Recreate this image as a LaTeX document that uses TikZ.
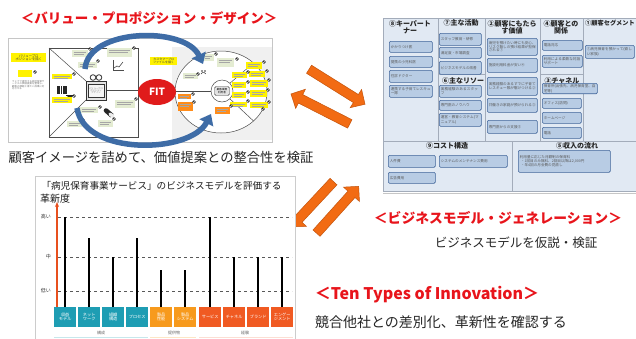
\documentclass[tikz,border=0pt]{standalone}
\usepackage{fontspec}
\setmainfont{Noto Sans CJK JP}
\XeTeXlinebreaklocale "ja"
\XeTeXlinebreakskip=0pt plus 0.5pt
\usetikzlibrary{arrows.meta,shapes.geometric,shapes.arrows,calc}

\definecolor{ttlred}{HTML}{E8141B}
\definecolor{captxt}{HTML}{262626}
\definecolor{arrorange}{HTML}{F26B13}
\definecolor{arredge}{HTML}{C4550E}
\definecolor{fitred}{HTML}{E01B1B}
\definecolor{vpdblue}{HTML}{3E6CA6}
\definecolor{bmcbg}{HTML}{E1E9F3}
\definecolor{bmcline}{HTML}{A3ACBA}
\definecolor{notefill}{HTML}{B8CCE4}
\definecolor{noteedge}{HTML}{41659A}
\definecolor{tyteal}{HTML}{1E9DB3}
\definecolor{tyorange}{HTML}{F79A1D}
\definecolor{tyred}{HTML}{F05A22}
\definecolor{axred}{HTML}{E8501E}
\definecolor{stickyyel}{HTML}{FFF200}
\definecolor{stickygrn}{HTML}{E4ECD2}
\definecolor{stickyorg}{HTML}{FF8C1A}

\newcommand{\fsz}[1]{\fontsize{#1}{#1}\selectfont}
% small black check mark badge
\newcommand{\chk}[2]{\fill[black!85] (#1,#2) circle (1.9);
  \draw[white,line width=0.35] (#1-0.9,#2) -- (#1-0.2,#2+0.7) -- (#1+0.9,#2-0.8);}
% coloured sticky square of the canvas
\newcommand{\vnote}[5]{\fill[#5] (#1,#2) rectangle (#3,#4);
  \draw[black!35,line width=0.3] ($(#1,#2)+(1.5,2.2)$) -- ($(#3,#2)+(-2,2.2)$);
  \draw[black!35,line width=0.3] ($(#1,#2)+(1.5,4)$) -- ($(#3,#2)+(-4,4)$);}

\begin{document}
\begin{tikzpicture}[x=1pt,y=-1pt,
  ttl/.style={text=ttlred,font=\fsz{13.5}\bfseries,inner sep=0},
  captext/.style={text=captxt,font=\fsz{13.3},inner sep=0},
  bmchead/.style={font=\fsz{7}\bfseries,text=black!85,inner sep=0,align=center},
  bnote/.style={draw=noteedge,fill=notefill,line width=0.6,rounded corners=1.2pt,
    anchor=north west,inner sep=1pt,font=\fsz{3.6},text=black!65,align=left},
  blockarrow/.style={single arrow,fill=arrorange,draw=arredge,line width=0.5,
    inner xsep=0pt,inner ysep=4.5pt,minimum width=21pt,
    single arrow head extend=6pt,single arrow head indent=0pt},
  tybox/.style={anchor=north west,text=white,font=\fsz{4.2},align=center,
    inner sep=0,minimum height=20},
  bar/.style={line width=1.6,black},
  lvl/.style={dashed,black!65,line width=0.5},
  lvltext/.style={font=\fsz{5},text=black!80,anchor=east,inner sep=0},
  grp/.style={font=\fsz{4},text=black!60,inner sep=0},
]
\useasboundingbox (0,0) rectangle (636,338);
\clip (0,0) rectangle (636,338);
\fill[white] (0,0) rectangle (636,338);

% ================= Value Proposition Design =================
\node[ttl] (vpdTitle) at (149,18) {＜バリュー・プロポジション・デザイン＞};

\draw[gray!45,fill=white] (8,38) rectangle (272,142);
% left instruction panel
\node[fill=stickyyel,anchor=north west,minimum width=35,minimum height=9,inner sep=0,
  font=\fsz{3.3},align=center,text=black!75] (vpLabel) at (11,53) {バリュープロ\\ポジションを描く};
\fill[stickyyel] (18,70) rectangle (32,77);
\chk{35}{72}
\node[anchor=north west,text width=33,font=\fsz{2.4},text=black!55,inner sep=0,align=left]
  (vpMemo) at (12,80) {ウェブで提供する病児保育サービスの価値提案を整理し、顧客の課題と得たい成果に対応させる};

% value map square
\draw[gray!60!black,line width=0.5] (49,48) rectangle (138,137);
\draw[gray!60!black,line width=0.5] (49,48) -- (86,81);
\draw[gray!60!black,line width=0.5] (49,137) -- (86,100);
\draw[gray!60!black,line width=0.5] (106,90) -- (138,90);
% gift icon
\draw[gray!40!black,line width=0.8] (93,77.5) circle (2.8) (99,77.5) circle (2.8);
\draw[gray!40!black,fill=gray!22,line width=0.6] (86,81) rectangle (106,100);
\draw[gray!40!black,fill=gray!8,line width=0.4] (88,84) rectangle (104,97);
\node[font=\fsz{2.3},text=black!50,align=center,inner sep=0] (giftTxt) at (96,90.5) {バリュープロ\\ポジション\\デザイン};
% barcode + dome icon
\foreach \bx/\bw in {57/0.9,58.4/0.4,59.3/0.7,60.5/0.4,61.4/1.0,62.8/0.4,63.7/0.7,64.9/0.4,65.8/0.9}
  \fill[black!85] (\bx,86) rectangle (\bx+\bw,94);
\fill[black!85] (66,95) rectangle (74,96);
\fill[black!85] (67,95) arc (180:0:3 and 3.2) -- cycle;
% growth chart icon
\draw[black!70,line width=0.4] (113,60) -- (113,70) -- (124,70);
\draw[black!70,line width=0.6] (114,68) -- (117,66) -- (119,67) -- (123,62);
% pill icon
\draw[black!85,line width=4.6,line cap=round] (106,110.5) -- (109.5,113.5);
\draw[black!85,line width=4.6] (109.5,113.5) -- (112,115.7);
\draw[gray!15,line width=3.4,line cap=round] (110,114) -- (113,116.6);
% stickies in the value map
\vnote{72}{50}{88}{57}{stickygrn}
\vnote{78}{62}{97}{68}{stickygrn}
\vnote{107}{48}{132}{57}{stickygrn}
\vnote{52}{74}{72}{79}{stickyyel}
\vnote{52}{97}{72}{103}{stickyyel}
\vnote{80}{107}{98}{113}{stickygrn}
\vnote{115}{100}{135}{108}{stickygrn}
\vnote{67}{121}{82}{127}{stickygrn}
\vnote{98}{120}{113}{127}{stickygrn}
\chk{90}{49}\chk{98}{61}\chk{74}{74}\chk{74}{96}\chk{100}{107}\chk{136}{99}\chk{83}{120}\chk{114}{119}\chk{134}{48}

% customer profile panel
\fill[gray!12] (172,47) rectangle (272,140);
\draw[gray!60!black,fill=white,line width=0.5] (221,92) ellipse [x radius=46,y radius=41];
\draw[gray!60!black,line width=0.5] (211,91) -- (175,91);
\draw[gray!60!black,line width=0.5] (229,84) -- (253.5,63);
\draw[gray!60!black,line width=0.5] (229,98) -- (253.5,121);
\draw[gray!60!black,fill=white,line width=0.5] (222,91) circle (11);
\node[draw=gray!50!black,fill=gray!22,rounded corners=1.5pt,minimum width=15,minimum height=9,
  inner sep=0,font=\fsz{2.6},align=center] (custCore) at (222,91) {顧客業務\\利用者};
\node[fill=stickyyel,anchor=north west,minimum width=27,minimum height=8,inner sep=0,
  font=\fsz{3},align=center,text=black!75] (cpLabel) at (150,57) {カスタマープロ\\ファイルを描く};
% gains
\vnote{203}{54}{214}{61}{stickygrn}
\vnote{217}{58}{234}{67}{stickygrn}
\vnote{183}{73}{198}{79}{stickygrn}
\fill[black!80] (202,71) circle (0.9) (205,71) circle (0.9);
\draw[black!80,line width=0.5] (201,74) arc (200:340:2.5);
% jobs
\vnote{246}{62}{262}{69}{stickyyel}
\vnote{232}{72}{247}{78}{stickyyel}
\vnote{249}{71}{265}{77}{stickyyel}
\vnote{232}{82}{246}{88}{stickyyel}
\vnote{250}{80}{268}{87}{stickyyel}
\vnote{232}{92}{246}{98}{stickyyel}
\vnote{250}{90}{267}{97}{stickyyel}
\vnote{230}{102}{247}{107}{stickyyel}
\vnote{250}{102}{268}{108}{stickyyel}
% pains
\vnote{178}{94}{191}{99}{stickyorg}
\vnote{178}{102}{193}{111}{stickyorg}
\vnote{215}{107}{230}{114}{stickyorg}
\chk{216}{54}\chk{237}{59}\chk{198}{74}\chk{264}{62}\chk{248}{72}\chk{267}{71}\chk{248}{82}
\chk{269}{80}\chk{248}{92}\chk{268}{90}\chk{248}{101}\chk{269}{102}\chk{193}{94}\chk{194}{102}\chk{231}{106}\chk{263}{109}

% fit arrows
\draw[vpdblue,line width=5.5,-{Triangle[width=15pt,length=10pt]}] (85,69) .. controls (88,28) and (185,26) .. (203,64);
\draw[vpdblue,line width=5.5,-{Triangle[width=15pt,length=10pt]}] (77,108) .. controls (84,156) and (190,154) .. (211,114);
\node[ellipse,fill=fitred,minimum width=38,minimum height=26,inner sep=0,text=white,
  font=\fsz{10}\bfseries] (fit) at (157,92) {FIT};

\node[captext] (vpdCap) at (161,157) {顧客イメージを詰めて、価値提案との整合性を検証};

% ================= cycle arrows =================
\node[blockarrow,minimum height=66,rotate=-32] (cycA) at (335,85.5) {};
\node[blockarrow,minimum height=66,rotate=153] (cycB) at (322.5,110) {};
\node[blockarrow,minimum height=62,rotate=-133] (cycC) at (314,202.5) {};
\node[blockarrow,minimum height=63,rotate=48] (cycD) at (336,211.5) {};

% ================= Business Model Canvas =================
\fill[bmcbg] (383,18) rectangle (640,191);
\draw[bmcline,line width=0.7] (383,18) rectangle (640,191);
\draw[bmcline,line width=0.7] (438,18) -- (438,141) (485,18) -- (485,141) (540,18) -- (540,141)
  (583,18) -- (583,141) (383,141) -- (640,141) (512,141) -- (512,191)
  (438,74) -- (485,74) (540,74) -- (583,74);
\draw[gray!45] (383,193.5) -- (640,193.5);

\node[bmchead] (hKP) at (410,27) {⑧キーパート\\ナー};
\node[bmchead] (hKA) at (461,23) {⑦主な活動};
\node[bmchead] (hVP) at (512,27) {②顧客にもたら\\す価値};
\node[bmchead] (hCR) at (561,27) {④顧客との\\関係};
\node[bmchead,anchor=west,font=\fsz{6.2}\bfseries] (hCS) at (585,23) {①顧客セグメント};
\node[bmchead] (hKR) at (463,81) {⑥主なリソー};
\node[bmchead] (hCH) at (562,81) {③チャネル};
\node[bmchead] (hCost) at (447,146) {⑨コスト構造};
\node[bmchead] (hRev) at (577,146) {⑤収入の流れ};

\node[bnote,minimum width=43,minimum height=11,text width=40] (kp1) at (389,41) {かかりつけ医};
\node[bnote,minimum width=43,minimum height=11,text width=40] (kp2) at (389,56) {提携の小児科医};
\node[bnote,minimum width=43,minimum height=12,text width=40] (kp3) at (389,70) {往診ドクター};
\node[bnote,minimum width=43,minimum height=12,text width=40] (kp4) at (389,85) {連携する子育てレスキュー隊};

\node[bnote,minimum width=42,minimum height=12,text width=39] (ka1) at (439,33) {スタッフ教育・研修};
\node[bnote,minimum width=42,minimum height=11,text width=39] (ka2) at (439,47) {満足度・市場調査};
\node[bnote,minimum width=42,minimum height=13,text width=39] (ka3) at (439,61) {ビジネスモデルの改善};
\node[bnote,minimum width=42,minimum height=12,text width=39] (kr1) at (439,85) {実務経験のあるスタッフ};
\node[bnote,minimum width=42,minimum height=10,text width=39] (kr2) at (439,100) {専門医のノウハウ};
\node[bnote,minimum width=42,minimum height=13,text width=39] (kr3) at (439,113) {運営・教育システム(マニュアル)};

\node[bnote,minimum width=50,minimum height=17,text width=47] (vp1) at (487,38) {病児を預けたい時にも安心、リスク無しの預け結果が担保される①};
\node[bnote,minimum width=50,minimum height=14,text width=47] (vp2) at (487,58) {施設利用料金が安い④};
\node[bnote,minimum width=50,minimum height=18,text width=47] (vp3) at (487,77) {実務経験のあるすでに子育てレスキュー隊が駆けつける②};
\node[bnote,minimum width=50,minimum height=14,text width=47] (vp4) at (487,98) {共働きの家庭が預けられる③};
\node[bnote,minimum width=50,minimum height=13,text width=47] (vp5) at (487,120) {専門医からの支援⑤};

\node[bnote,minimum width=40,minimum height=10,text width=37] (cr1) at (542,40) {電話対応};
\node[bnote,minimum width=40,minimum height=12,text width=37] (cr2) at (542,55) {利用による柔軟な対話サポート};
\node[bnote,minimum width=55,minimum height=10,text width=52] (ch1) at (542,83) {保育所(出張先、病児保育室、自宅等)};
\node[bnote,minimum width=39,minimum height=10,text width=36] (ch2) at (542,98) {オフィス(訪問)};
\node[bnote,minimum width=39,minimum height=11,text width=36] (ch3) at (542,112) {ホームページ};
\node[bnote,minimum width=39,minimum height=11,text width=36] (ch4) at (542,127) {電話};

\node[bnote,minimum width=49,minimum height=13,text width=46] (cs1) at (585,45) {①病児保育を預かって(欲しい家族)};

\node[bnote,minimum width=47,minimum height=12,text width=44] (c1) at (388,155) {人件費};
\node[bnote,minimum width=68,minimum height=12,text width=65] (c2) at (439,155) {システムのメンテナンス費用};
\node[bnote,minimum width=47,minimum height=11,text width=44] (c3) at (388,172) {広告費用};
\node[bnote,minimum width=92,minimum height=22,text width=89] (r1) at (518,150)
  {利用量に応じた月額制の保育料\\\ ・1回目のみ無料、2回目以降は2,000円\\\ ・年4回の月会費の見直し};

\node[ttl,font=\fsz{13.8}\bfseries] (bmgTitle) at (498,218) {＜ビジネスモデル・ジェネレーション＞};
\node[captext,font=\fsz{12.5}] (bmgCap) at (516,243) {ビジネスモデルを仮説・検証};

% ================= Ten Types of Innovation =================
\draw[gray!40,fill=white] (35,176) rectangle (295,350);
\node[font=\fsz{9.6},text=black!90,inner sep=0] (ttTitle) at (161.5,186) {「病児保育事業サービス」のビジネスモデルを評価する};
\node[font=\fsz{10},text=black!90,inner sep=0,anchor=west] (ttAxis) at (40,199) {革新度};
\draw[axred,line width=1.2,-{Stealth[length=5pt,width=4pt]}] (57,307) -- (57,202);
\draw[lvl] (58,217) -- (292,217);
\draw[lvl] (58,257) -- (292,257);
\draw[lvl] (58,291) -- (292,291);
\node[lvltext] (lvHigh) at (51,217) {高い};
\node[lvltext] (lvMid) at (51,257) {中};
\node[lvltext] (lvLow) at (51,291) {低い};

\node[tybox,fill=tyteal,minimum width=22] (ty1) at (54,307) {収益\\モデル};
\node[tybox,fill=tyteal,minimum width=22] (ty2) at (78,307) {ネット\\ワーク};
\node[tybox,fill=tyteal,minimum width=22] (ty3) at (102,307) {組織\\構造};
\node[tybox,fill=tyteal,minimum width=22] (ty4) at (126,307) {プロセス};
\node[tybox,fill=tyorange,minimum width=22] (ty5) at (150,307) {製品\\性能};
\node[tybox,fill=tyorange,minimum width=22] (ty6) at (174,307) {製品\\システム};
\node[tybox,fill=tyred,minimum width=22] (ty7) at (199,307) {サービス};
\node[tybox,fill=tyred,minimum width=22] (ty8) at (223,307) {チャネル};
\node[tybox,fill=tyred,minimum width=22] (ty9) at (247,307) {ブランド};
\node[tybox,fill=tyred,minimum width=22] (ty10) at (271,307) {エンゲー\\ジメント};

\draw[bar] (ty1.north) -- ++(0,-90);
\draw[bar] (ty2.north) -- ++(0,-69);
\draw[bar] (ty3.north) -- ++(0,-50);
\draw[bar] (ty4.north) -- ++(0,-69);
\draw[bar] (ty5.north) -- ++(0,-37);
\draw[bar] (ty6.north) -- ++(0,-37);
\draw[bar] (ty7.north) -- ++(0,-90);
\draw[bar] (ty8.north) -- ++(0,-50);
\draw[bar] (ty9.north) -- ++(0,-50);
\draw[bar] (ty10.north) -- ++(0,-50);

\node[grp] (gConf) at (101,333) {構成};
\node[grp] (gOffer) at (174,333) {提供物};
\node[grp] (gExp) at (245,333) {経験};
\draw[tyteal!25,line width=1.5] (54,337.5) -- (148,337.5);
\draw[tyorange!25,line width=1.5] (150,337.5) -- (196,337.5);
\draw[tyred!20,line width=1.5] (199,337.5) -- (293,337.5);

\node[ttl,font=\fsz{16}\bfseries] (ttiTitle) at (427,295) {＜Ten Types of Innovation＞};
\node[captext,font=\fsz{14}] (ttiCap) at (441,322) {競合他社との差別化、革新性を確認する};
\end{tikzpicture}
\end{document}
